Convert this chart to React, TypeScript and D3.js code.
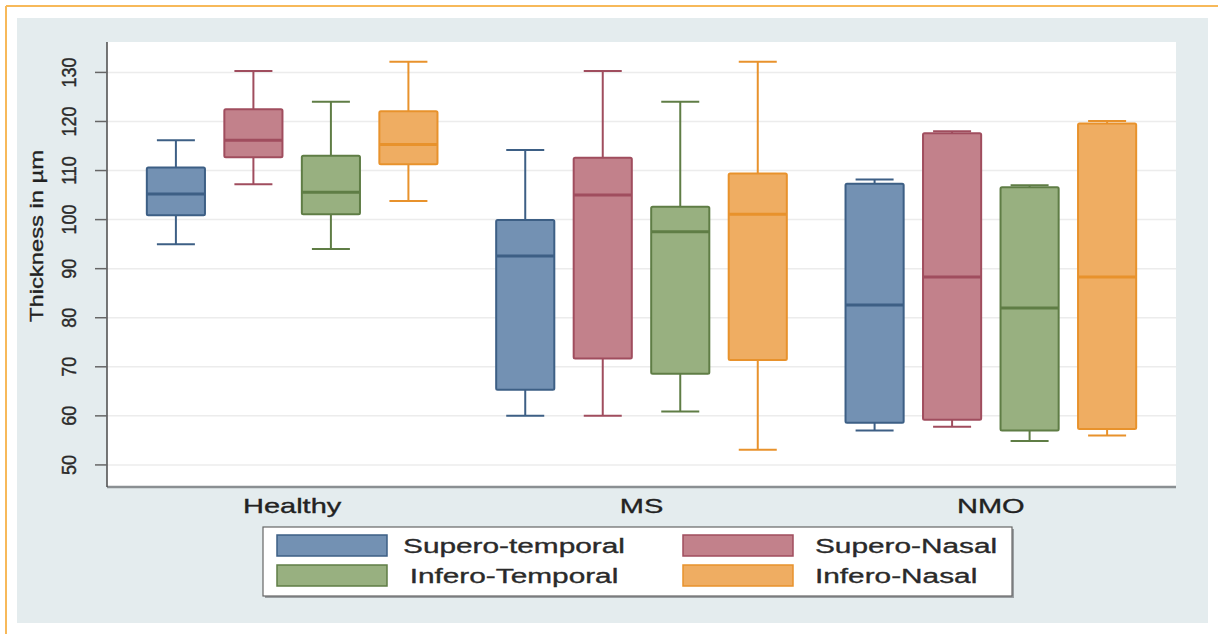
import React from "react";
import * as d3 from "d3";

// groups on the x axis
const groups = ["Healthy", "MS", "NMO"];
// series (quadrants)
const seriesNames = ["Supero-temporal", "Supero-Nasal", "Infero-Temporal", "Infero-Nasal"];
// y axis ticks
const yTicks = [50, 60, 70, 80, 90, 100, 110, 120, 130];

// [min, q1, median, q3, max] per group: Healthy, MS, NMO
const superoTemporal = [
  [95, 100.9, 105.2, 110.6, 116.2],
  [60, 65.3, 92.6, 99.9, 114.2],
  [57, 58.6, 82.6, 107.3, 108.2],
];
const superoNasal = [
  [107.2, 112.7, 116.2, 122.5, 130.3],
  [60, 71.7, 105, 112.6, 130.3],
  [57.8, 59.2, 88.3, 117.6, 118],
];
const inferoTemporal = [
  [94, 101.1, 105.6, 113, 124],
  [60.9, 68.6, 97.5, 102.6, 124],
  [54.9, 57, 82, 106.6, 107],
];
const inferoNasal = [
  [103.8, 111.3, 115.3, 122.1, 132.2],
  [53.1, 71.4, 101.1, 109.4, 132.2],
  [56, 57.3, 88.3, 119.6, 120.1],
];

const allSeries = [superoTemporal, superoNasal, inferoTemporal, inferoNasal];

const fills = ["#7391b3", "#c2818b", "#98b080", "#efad62"];
const strokes = ["#3d5f85", "#a04d5e", "#5f7d45", "#e8922c"];

const W = 1219;
const H = 634;
const plot = { left: 107, right: 1176, top: 42, bottom: 487 };
const FONT = "'Liberation Sans', Arial, Helvetica, sans-serif";

const App = () => {
  const y = d3.scaleLinear().domain([45.5, 136.2]).range([plot.bottom, plot.top]);

  const x = d3
    .scalePoint()
    .domain(groups)
    .range([plot.left, plot.right])
    .padding(0.53);

  const sub = d3
    .scaleBand()
    .domain(seriesNames)
    .range([-164.7, 164.7])
    .paddingInner(0.25)
    .paddingOuter(0.25);

  const bw = sub.bandwidth();
  const capW = 38;

  const boxes = [];
  allSeries.forEach((s, si) => {
    s.forEach((v, gi) => {
      const [mn, q1, md, q3, mx] = v;
      const cx = x(groups[gi]) + sub(seriesNames[si]) + bw / 2;
      boxes.push(
        <g key={`${si}-${gi}`}>
          <line x1={cx} x2={cx} y1={y(q3)} y2={y(mx)} stroke={strokes[si]} strokeWidth={2} />
          <line x1={cx} x2={cx} y1={y(q1)} y2={y(mn)} stroke={strokes[si]} strokeWidth={2} />
          <line x1={cx - capW / 2} x2={cx + capW / 2} y1={y(mx)} y2={y(mx)} stroke={strokes[si]} strokeWidth={2} />
          <line x1={cx - capW / 2} x2={cx + capW / 2} y1={y(mn)} y2={y(mn)} stroke={strokes[si]} strokeWidth={2} />
          <rect
            x={cx - bw / 2}
            y={y(q3)}
            width={bw}
            height={y(q1) - y(q3)}
            fill={fills[si]}
            stroke={strokes[si]}
            strokeWidth={2}
            rx={1.5}
          />
          <line x1={cx - bw / 2} x2={cx + bw / 2} y1={y(md)} y2={y(md)} stroke={strokes[si]} strokeWidth={3} />
        </g>
      );
    });
  });

  // legend layout
  const legend = { x: 263, y: 527, w: 749, h: 69 };
  const legendItems = seriesNames.map((name, i) => {
    const col = i % 2;
    const row = Math.floor(i / 2);
    const sx = col === 0 ? 277 : 683;
    const sy = 535 + row * 30;
    const tx = col === 0 ? 514 : 815;
    return (
      <g key={name}>
        <rect x={sx} y={sy} width={110} height={21} fill={fills[i]} stroke={strokes[i]} strokeWidth={1.5} />
        <text
          x={tx}
          y={sy + 18}
          fontSize={21}
          fill="#2a2a2a"
          stroke="#2a2a2a"
          strokeWidth={0.35}
          textAnchor={col === 0 ? "middle" : "start"}
          transform={`translate(${tx},0) scale(1.42,1) translate(${-tx},0)`}
        >
          {name}
        </text>
      </g>
    );
  });

  return (
    <div style={{ position: "absolute", left: 0, top: 0 }}>
      <svg width={W} height={H} viewBox={`0 0 ${W} ${H}`} style={{ display: "block", fontFamily: FONT }}>
        <rect x={0} y={0} width={W} height={H} fill="#ffffff" />
        {/* orange frame */}
        <line x1={6} x2={1218} y1={6} y2={6} stroke="#f7b95a" strokeWidth={2} />
        <line x1={6} x2={6} y1={6} y2={H} stroke="#f7b95a" strokeWidth={2} />
        {/* graph region */}
        <rect x={17} y={18} width={1191} height={605} fill="#e4ecee" />
        <rect x={plot.left} y={plot.top} width={plot.right - plot.left} height={plot.bottom - plot.top} fill="#ffffff" />

        {/* grid */}
        {yTicks.map((t) => (
          <line key={t} x1={plot.left} x2={plot.right} y1={y(t)} y2={y(t)} stroke="#ececec" strokeWidth={1.5} />
        ))}

        {boxes}

        {/* axes */}
        <line x1={plot.left} x2={plot.right} y1={plot.bottom} y2={plot.bottom} stroke="#8a8f92" strokeWidth={2.5} />
        <line x1={plot.left} x2={plot.left} y1={plot.top} y2={plot.bottom} stroke="#4a4a4a" strokeWidth={1.5} />
        {yTicks.map((t) => (
          <g key={t}>
            <line x1={plot.left - 12} x2={plot.left} y1={y(t)} y2={y(t)} stroke="#666" strokeWidth={1.5} />
            <text
              transform={`translate(${76},${y(t)}) rotate(-90) scale(1,1.15)`}
              textAnchor="middle"
              fontSize={18}
              fill="#2a2a2a"
              stroke="#2a2a2a"
              strokeWidth={0.35}
            >
              {t}
            </text>
          </g>
        ))}
        <text
          transform={`translate(${43},${236}) rotate(-90)`}
          textAnchor="middle"
          fontSize={19}
          fill="#222"
          stroke="#222"
          strokeWidth={0.35}
          textLength={172}
          lengthAdjust="spacingAndGlyphs"
        >
          Thickness in µm
        </text>

        {groups.map((g) => (
          <text
            key={g}
            x={x(g)}
            y={513}
            textAnchor="middle"
            fontSize={21}
            fill="#222"
            stroke="#222"
            strokeWidth={0.35}
            transform={`translate(${x(g)},0) scale(1.38,1) translate(${-x(g)},0)`}
          >
            {g}
          </text>
        ))}

        {/* legend */}
        <rect x={legend.x + 2} y={legend.y + 2} width={legend.w} height={legend.h} fill="#9a9fa2" />
        <rect x={legend.x} y={legend.y} width={legend.w} height={legend.h} fill="#ffffff" stroke="#666" strokeWidth={1.2} />
        {legendItems}
      </svg>
    </div>
  );
};

export default App;
